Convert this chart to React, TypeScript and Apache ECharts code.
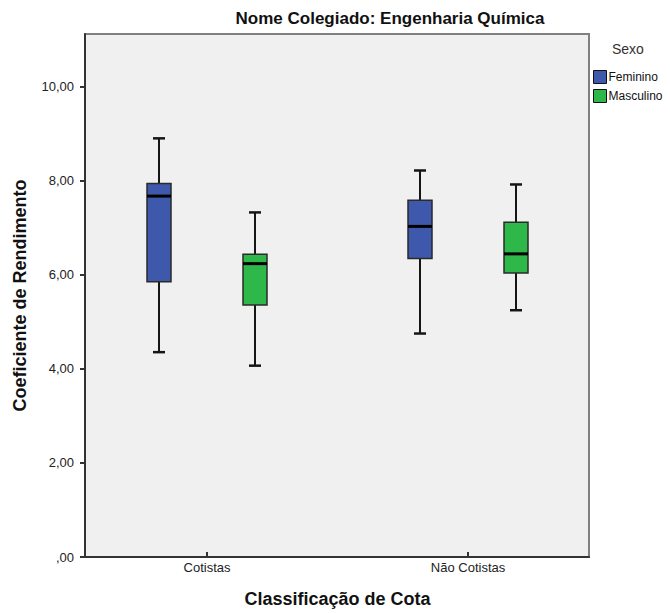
import React, { useEffect, useRef } from "react";
import * as echarts from "echarts";

const categories = ["Cotistas", "Não Cotistas"];
const seriesNames = ["Feminino", "Masculino"];
// [min, Q1, median, Q3, max] per category
const feminino = [
  [4.29, 5.8, 7.64, 7.91, 8.88],
  [4.69, 6.3, 6.99, 7.55, 8.19],
];
const masculino = [
  [4.0, 5.3, 6.19, 6.39, 7.29],
  [5.19, 5.99, 6.4, 7.08, 7.89],
];
const yTickValues = [0, 2, 4, 6, 8, 10];
const yTickLabels = [",00", "2,00", "4,00", "6,00", "8,00", "10,00"];

const FONT = '"Liberation Sans", Arial, Helvetica, sans-serif';
const BLUE = "#3e58ab";
const GREEN = "#2fb84a";

function makeRenderItem(offset: number, color: string) {
  return (params: any, api: any) => {
    const c = api.value(0);
    const lo = api.value(1);
    const q1 = api.value(2);
    const med = api.value(3);
    const q3 = api.value(4);
    const hi = api.value(5);
    const x = api.coord([c, med])[0] + offset;
    const y = (v: number) => api.coord([c, v])[1];
    const hw = 12;
    const cw = 6;
    const wStyle = { stroke: "#151515", lineWidth: 2 };
    return {
      type: "group",
      children: [
        { type: "line", shape: { x1: x, y1: y(hi), x2: x, y2: y(q3) }, style: wStyle },
        { type: "line", shape: { x1: x, y1: y(q1), x2: x, y2: y(lo) }, style: wStyle },
        { type: "line", shape: { x1: x - cw, y1: y(hi), x2: x + cw, y2: y(hi) }, style: { stroke: "#151515", lineWidth: 2.5 } },
        { type: "line", shape: { x1: x - cw, y1: y(lo), x2: x + cw, y2: y(lo) }, style: { stroke: "#151515", lineWidth: 2.5 } },
        {
          type: "rect",
          shape: { x: x - hw, y: y(q3), width: hw * 2, height: y(q1) - y(q3) },
          style: { fill: color, stroke: "#2a2a2a", lineWidth: 1.5 },
        },
        { type: "line", shape: { x1: x - hw, y1: y(med), x2: x + hw, y2: y(med) }, style: { stroke: "#000", lineWidth: 3 } },
      ],
    };
  };
}

export default function App() {
  const ref = useRef<HTMLDivElement>(null);
  useEffect(() => {
    document.body.style.margin = "0";
    if (!ref.current) return;
    const chart = echarts.init(ref.current, null, { renderer: "svg" });
    const yMax = 11.12;
    const option: any = {
      animation: false,
      backgroundColor: "#ffffff",
      textStyle: { fontFamily: FONT },
      grid: [
        {
          left: 85,
          top: 34,
          width: 504,
          height: 523,
          show: true,
          backgroundColor: "#f0f0f0",
          borderColor: "#808080",
          borderWidth: 2,
        },
        { left: 76.5, top: 34, width: 522, height: 523 },
      ],
      xAxis: [
        {
          gridIndex: 0,
          type: "category",
          data: categories,
          axisLine: { show: true, lineStyle: { color: "#333", width: 2 } },
          axisTick: { show: false },
          axisLabel: { show: false },
          splitLine: { show: false },
        },
        {
          gridIndex: 1,
          type: "category",
          data: categories,
          axisLine: { show: false },
          axisTick: { show: true, alignWithLabel: true, length: 6, lineStyle: { color: "#333", width: 2 } },
          axisLabel: { fontSize: 13, color: "#222", margin: 9, fontFamily: FONT },
          splitLine: { show: false },
          name: "Classificação de Cota",
          nameLocation: "middle",
          nameGap: 38,
          nameTextStyle: { fontSize: 18, fontWeight: "bold", color: "#111", fontFamily: FONT },
        },
      ],
      yAxis: [
        {
          gridIndex: 0,
          type: "value",
          min: 0,
          max: yMax,
          axisLine: { show: true, lineStyle: { color: "#333", width: 2 } },
          axisTick: { show: true, length: 5, customValues: yTickValues, lineStyle: { color: "#333", width: 2 } },
          axisLabel: {
            customValues: yTickValues,
            fontSize: 13,
            color: "#222",
            margin: 11,
            fontFamily: FONT,
            formatter: (v: number) => {
              const i = yTickValues.indexOf(v);
              return i >= 0 ? yTickLabels[i] : "";
            },
          },
          splitLine: { show: false },
          name: "Coeficiente de Rendimento",
          nameLocation: "middle",
          nameGap: 56,
          nameTextStyle: { fontSize: 18, fontWeight: "bold", color: "#111", fontFamily: FONT },
        },
        { gridIndex: 1, type: "value", min: 0, max: yMax, show: false },
      ],
      legend: {
        orient: "vertical",
        left: 593,
        top: 70,
        padding: 0,
        itemWidth: 13,
        itemHeight: 13,
        itemGap: 5,
        icon: "rect",
        textStyle: { fontSize: 12, color: "#111", fontFamily: FONT, padding: [0, 0, 0, -3] },
        data: [
          { name: seriesNames[0], itemStyle: { color: BLUE, borderColor: "#111", borderWidth: 1 } },
          { name: seriesNames[1], itemStyle: { color: GREEN, borderColor: "#111", borderWidth: 1 } },
        ],
      },
      graphic: [
        {
          type: "text",
          x: 390,
          y: 18,
          style: {
            text: "Nome Colegiado: Engenharia Química",
            align: "center",
            verticalAlign: "middle",
            fontSize: 17,
            fontWeight: "bold",
            fontFamily: FONT,
            fill: "#111",
          },
        },
        {
          type: "text",
          x: 612,
          y: 49,
          style: {
            text: "Sexo",
            align: "left",
            verticalAlign: "middle",
            fontSize: 14,
            fontFamily: FONT,
            fill: "#333",
          },
        },
      ],
      series: [
        {
          name: seriesNames[0],
          type: "custom",
          xAxisIndex: 1,
          yAxisIndex: 1,
          itemStyle: { color: BLUE, borderColor: "#111" },
          encode: { x: 0, y: [1, 2, 3, 4, 5] },
          data: feminino.map((v, i) => [i, ...v]),
          renderItem: makeRenderItem(-48, BLUE),
        },
        {
          name: seriesNames[1],
          type: "custom",
          xAxisIndex: 1,
          yAxisIndex: 1,
          itemStyle: { color: GREEN, borderColor: "#111" },
          encode: { x: 0, y: [1, 2, 3, 4, 5] },
          data: masculino.map((v, i) => [i, ...v]),
          renderItem: makeRenderItem(48, GREEN),
        },
      ],
    };
    chart.setOption(option);
    return () => chart.dispose();
  }, []);
  return (
    <div
      ref={ref}
      style={{ position: "fixed", left: 0, top: 0, width: 670, height: 613 }}
    />
  );
}
